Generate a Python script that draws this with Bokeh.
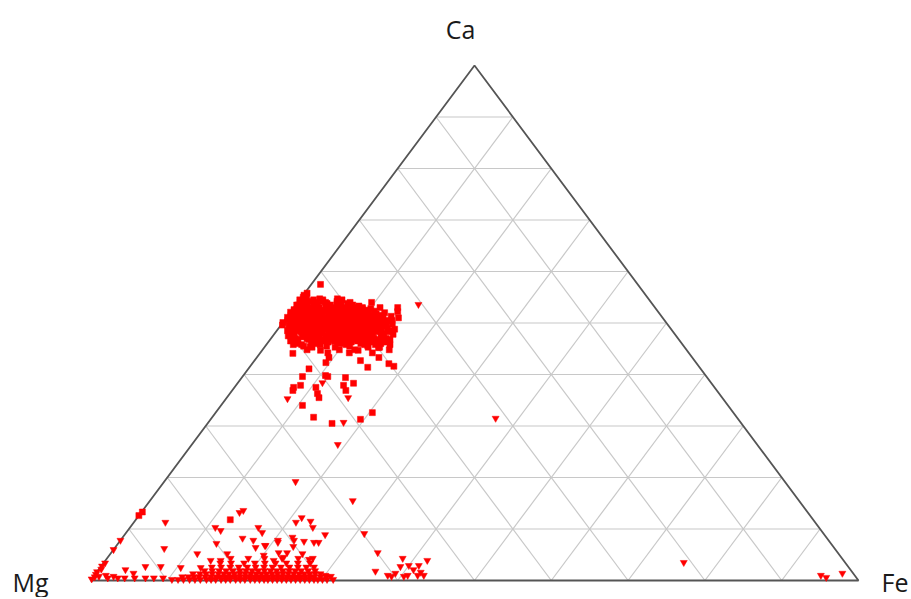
from bokeh.plotting import figure
from bokeh.models import Range1d, Label, ColumnDataSource
from bokeh.embed import file_html
from bokeh.resources import INLINE

# ---------------- data (percent; Mg = 100 - Ca - Fe) ----------------
vertex_top, vertex_left, vertex_right = "Ca", "Mg", "Fe"
grid_levels = [10, 20, 30, 40, 50, 60, 70, 80, 90]

# points lying on the Mg-Ca edge in the upper group (Ca, Fe)
edge_sq = [(49.6, 0.2), (50.1, 0.0), (50.6, 0.4), (51.1, 0.1), (51.6, 0.3), (52.1, 0.0),
           (52.6, 0.2), (53.1, 0.5), (53.5, 0.1), (54.0, 0.3), (54.5, 0.0), (55.0, 0.2),
           (55.4, 0.1), (55.8, 0.3)]

# dense upper cluster, by Ca row: Fe values
core_ca = [54.5, 54.0, 53.5, 53.0, 52.5, 52.0, 51.5, 51.0, 50.5, 50.0, 49.5, 49.0,
           48.5, 48.0, 47.5, 47.0, 46.5, 46.0, 45.5,
           54.7, 54.2, 53.8, 53.3, 52.8, 52.3, 51.8, 51.3, 50.8, 50.3, 49.8, 49.3,
           48.8, 48.3, 47.8, 47.3, 46.8, 46.3, 45.8, 45.3, 44.8, 44.2]
core_fe = [
    [0.5, 1.8, 3.0, 5.5],
    [1.0, 2.4, 3.6, 6.8, 9.6],
    [0.3, 1.5, 2.8, 4.5, 5.9, 7.4],
    [0.8, 2.1, 3.3, 5.0, 6.3, 7.7, 8.9, 11.2],
    [0.5, 1.9, 3.9, 4.8, 6.0, 7.2, 8.4, 9.5],
    [1.2, 2.6, 3.5, 5.4, 6.7, 7.9, 9.1, 10.2, 12.3],
    [0.7, 2.0, 3.1, 4.4, 5.8, 6.9, 8.1, 9.3, 10.8, 11.9],
    [1.5, 2.8, 4.0, 5.2, 6.4, 7.5, 8.7, 9.9, 11.0, 12.6],
    [0.9, 2.3, 3.7, 4.9, 6.1, 7.1, 8.3, 9.6, 10.6, 11.8, 13.2, 14.0],
    [1.6, 3.0, 4.3, 5.6, 6.6, 7.8, 8.8, 10.0, 11.3, 12.4, 13.5],
    [1.1, 2.5, 3.8, 5.1, 6.3, 7.4, 8.5, 9.7, 10.9, 12.0, 13.1],
    [1.9, 3.3, 4.6, 5.9, 7.0, 8.2, 9.3, 10.4, 11.6, 12.8, 14.2],
    [1.4, 2.7, 4.1, 5.4, 6.7, 7.9, 9.0, 10.2, 11.4, 13.6, 14.8],
    [2.2, 3.6, 5.0, 6.2, 7.5, 8.6, 9.8, 11.1, 12.3, 14.2],
    [2.0, 3.9, 5.3, 6.9, 8.1, 9.4, 10.7, 12.0, 13.0],
    [3.2, 4.7, 6.0, 7.6, 8.9, 10.3, 11.8, 13.4, 15.0],
    [2.8, 5.5, 7.2, 8.5, 10.0, 11.5, 12.9, 14.5],
    [4.0, 6.4, 9.6, 12.2, 14.8],
    [5.0, 8.0, 11.0],
    [0.8, 2.5, 4.8],
    [1.3, 3.1, 5.0],
    [0.9, 2.2, 3.9, 5.2, 6.6],
    [1.4, 2.7, 4.0, 5.6, 7.0, 8.3],
    [1.2, 2.6, 4.3, 5.6, 6.7, 7.9, 9.0, 10.1],
    [0.7, 1.9, 3.0, 4.7, 6.0, 7.3, 8.6, 9.7, 10.8],
    [1.4, 2.7, 3.8, 5.1, 6.3, 7.5, 8.7, 9.9, 11.3],
    [0.9, 2.2, 3.4, 4.6, 5.8, 7.0, 8.1, 9.3, 10.4, 11.6, 13.5],
    [1.8, 3.1, 4.3, 5.5, 6.7, 7.8, 9.0, 10.2, 11.3, 12.5],
    [1.3, 2.6, 3.9, 5.2, 6.4, 7.6, 8.8, 10.0, 11.2, 12.4, 13.8],
    [2.0, 3.4, 4.7, 5.9, 7.1, 8.2, 9.3, 10.5, 11.7, 12.9, 14.4],
    [1.5, 2.9, 4.2, 5.5, 6.8, 7.9, 9.0, 10.1, 11.3, 12.5, 13.6],
    [2.3, 3.7, 5.0, 6.3, 7.4, 8.6, 9.8, 11.0, 12.2, 13.3, 15.2],
    [1.9, 3.2, 4.5, 5.8, 7.1, 8.2, 9.4, 10.6, 11.8, 13.0, 14.6],
    [2.6, 4.4, 5.9, 7.3, 8.6, 9.9, 11.3, 12.6, 14.0, 15.5],
    [2.5, 4.0, 5.6, 7.0, 8.3, 9.7, 11.1, 12.5, 14.2],
    [3.6, 5.0, 6.6, 7.9, 9.3, 10.7, 12.1, 13.8, 15.6],
    [3.4, 6.0, 7.8, 9.0, 10.8, 13.3, 15.3],
    [4.6, 7.0, 10.4, 12.8, 14.2, 16.1],
    [6.2, 9.2, 13.5, 15.0],
    [5.8, 10.0, 12.0, 16.5],
    [8.8, 11.6, 14.6],
]

# scattered squares around the upper cluster (Ca, Fe)
scatter_sq = [(57.5, 1.2), (53.0, 13.5), (45.8, 3.5), (44.1, 4.3), (45.4, 5.9), (44.7, 7.6),
              (43.3, 9.4), (42.3, 9.5), (41.1, 7.9), (39.6, 7.8), (37.5, 7.7), (36.9, 7.9),
              (37.9, 8.4), (34.0, 10.6), (37.5, 10.6), (36.3, 11.4), (35.5, 12.0), (31.7, 13.2),
              (39.6, 11.1), (39.8, 10.7), (39.4, 13.5), (37.9, 14.0), (36.9, 14.8), (38.3, 15.1),
              (32.6, 20.4), (31.3, 19.5), (30.5, 16.2), (42.7, 13.8), (41.4, 15.4), (43.3, 15.9),
              (42.1, 17.8), (41.6, 18.7), (44.7, 12.5), (45.6, 13.3), (46.2, 14.3), (45.2, 14.9),
              (11.8, 12.3), (13.3, 0.1), (12.6, 0.0), (52.2, 13.9), (51.0, 14.6)]

# inverted-triangle points (Ca, Fe)
upper_tri = [(53.6, 15.9), (35.3, 8.0), (38.4, 11.0), (35.5, 15.8), (30.7, 17.6),
             (26.4, 19.0), (31.5, 37.0), (19.2, 17.1)]

corner_tri = [(0.3, 0.0), (0.7, 0.2), (1.2, 0.1), (1.7, 0.0), (2.2, 0.3), (2.8, 0.1),
              (3.4, 0.2), (7.8, 0.0), (6.0, 0.0)]

scatter_tri = [(11.3, 4.1), (6.2, 6.5), (2.7, 5.8), (2.7, 7.8), (2.1, 3.5), (1.4, 4.9),
               (1.0, 1.5), (0.8, 2.6), (0.8, 0.7), (2.5, 10.5), (5.2, 11.3), (3.9, 13.7),
               (10.3, 11.1), (9.7, 12.1), (7.2, 12.8), (13.2, 12.8), (13.6, 13.1), (10.3, 16.7),
               (9.3, 17.7), (7.8, 17.3), (6.4, 18.3), (8.2, 15.7), (5.2, 15.2), (3.9, 15.0),
               (2.5, 13.1), (6.8, 19.4), (7.8, 20.5), (15.5, 26.4), (11.3, 21.1), (12.2, 21.4),
               (11.5, 22.9), (10.3, 23.8), (8.9, 26.1), (9.1, 31.1), (5.4, 34.7), (8.4, 22.1),
               (7.8, 22.6), (7.6, 24.0), (7.4, 25.4), (7.4, 26.0), (7.4, 20.7), (6.8, 19.3),
               (6.6, 23.1), (5.4, 22.9), (5.4, 21.8), (5.2, 25.0), (4.1, 26.4), (4.3, 26.8),
               (4.5, 22.9), (3.9, 21.9), (4.9, 20.1), (1.8, 36.2), (1.0, 38.2), (1.4, 39.0),
               (4.3, 38.5), (2.7, 39.0), (2.9, 40.0), (2.1, 41.0), (2.9, 41.3), (1.6, 42.2),
               (3.9, 41.9), (1.0, 40.8), (1.0, 42.1), (1.0, 42.9), (0.8, 38.8), (0.8, 40.4),
               (0.8, 30.9), (1.0, 30.1), (3.5, 75.5), (1.0, 94.6), (0.6, 95.5), (1.4, 97.2)]

# dense band along the Mg-Fe edge, by Ca row: Fe values
band_ca = [0.2, 0.7, 1.3, 1.9, 2.6, 3.4, 4.3, 0.5]
band_fe = [
    [10.5, 11.3, 12.0, 12.8, 13.5, 14.2, 15.0, 15.6, 16.2, 16.9, 17.5, 18.1, 18.8, 19.4,
     20.0, 20.7, 21.3, 21.9, 22.5, 23.0, 23.6, 24.2, 24.8, 25.4, 26.0, 26.6, 27.2, 27.8,
     28.4, 29.0, 29.5, 30.1, 30.7, 31.5],
    [11.6, 12.4, 13.1, 13.8, 14.6, 15.3, 16.0, 16.6, 17.3, 17.9, 18.5, 19.1, 19.8, 20.4,
     21.0, 21.6, 22.2, 22.8, 23.4, 24.0, 24.6, 25.2, 25.8, 26.4, 27.0, 27.6, 28.2, 28.8,
     29.6, 30.4],
    [12.7, 13.6, 14.4, 15.2, 16.0, 16.7, 17.4, 18.1, 18.8, 19.5, 20.2, 20.9, 21.6, 22.3,
     23.0, 23.7, 24.4, 25.1, 25.8, 26.5, 27.2, 27.9, 28.6, 29.3],
    [13.9, 14.9, 15.8, 16.7, 17.6, 18.5, 19.3, 20.1, 20.9, 21.7, 22.5, 23.3, 24.1, 24.9,
     25.7, 26.5, 27.4, 28.3],
    [14.5, 15.7, 16.9, 18.0, 19.1, 20.2, 21.3, 22.4, 23.5, 24.6, 25.7, 26.8, 27.8],
    [15.2, 16.6, 18.3, 19.7, 21.0, 22.4, 23.8, 25.3, 26.9],
    [16.1, 18.4, 20.5, 22.8, 24.9],
    [2.0, 3.3, 4.2, 5.5, 6.9, 8.0, 9.2],
]

# ---------------- helpers ----------------
def to_xy(ca, fe):
    return (fe + ca / 2.0) / 100.0, ca / 100.0

def build(pairs):
    xs, ys = [], []
    for ca, fe in pairs:
        x, y = to_xy(ca, fe)
        xs.append(x)
        ys.append(y)
    return ColumnDataSource(dict(x=xs, y=ys))

sq_pairs = list(edge_sq) + list(scatter_sq)
for ca, row in zip(core_ca, core_fe):
    sq_pairs += [(ca, fe) for fe in row]
tri_pairs = list(upper_tri) + list(corner_tri) + list(scatter_tri)
for ca, row in zip(band_ca, band_fe):
    tri_pairs += [(ca, fe) for fe in row]

# ---------------- layout ----------------
W, H = 911, 597
LEFT_PX, SIDE_PX = 90, 768          # Mg vertex from left, base length
BASE_PX, TRI_H_PX = 17, 515         # base above bottom, triangle height

p = figure(width=W, height=H, output_backend="svg", toolbar_location=None,
           x_axis_type=None, y_axis_type=None, min_border=0,
           x_range=Range1d(-LEFT_PX / SIDE_PX, (W - LEFT_PX) / SIDE_PX),
           y_range=Range1d(-BASE_PX / TRI_H_PX, (H - BASE_PX) / TRI_H_PX),
           outline_line_color=None, background_fill_color="white",
           border_fill_color="white")

# grid
gx, gy = [], []
for g in grid_levels:
    a = to_xy(g, 0); b = to_xy(g, 100 - g)
    gx.append([a[0], b[0]]); gy.append([a[1], b[1]])
    a = to_xy(0, g); b = to_xy(100 - g, g)
    gx.append([a[0], b[0]]); gy.append([a[1], b[1]])
    a = to_xy(0, 100 - g); b = to_xy(100 - g, 0)
    gx.append([a[0], b[0]]); gy.append([a[1], b[1]])
p.multi_line(gx, gy, line_color="#c8c8c8", line_width=1.2)

# outline
corners = [to_xy(0, 0), to_xy(0, 100), to_xy(100, 0), to_xy(0, 0)]
p.line([c[0] for c in corners], [c[1] for c in corners], line_color="#555555",
       line_width=1.8)

p.scatter("x", "y", source=build(sq_pairs), marker="square", size=6,
          fill_color="#ff0000", line_color="#ff0000", line_width=0.5)
p.scatter("x", "y", source=build(tri_pairs), marker="inverted_triangle", size=7,
          fill_color="#ff0000", line_color="#ff0000", line_width=0.5)

font = "Open Sans"
def page_x(px):
    return (px - LEFT_PX) / SIDE_PX
def page_y(py):
    return (H - BASE_PX - py) / TRI_H_PX

p.add_layout(Label(x=page_x(460), y=page_y(28), text=vertex_top,
                   text_font=font, text_font_size="25px", text_align="center",
                   text_baseline="alphabetic", text_color="#1a1a1a"))
p.add_layout(Label(x=page_x(12), y=page_y(581), text=vertex_left,
                   text_font=font, text_font_size="25px", text_align="left",
                   text_baseline="alphabetic", text_color="#1a1a1a"))
p.add_layout(Label(x=page_x(881), y=page_y(581), text=vertex_right,
                   text_font=font, text_font_size="25px", text_align="left",
                   text_baseline="alphabetic", text_color="#1a1a1a"))

open("out.html", "w").write(file_html(p, INLINE))
